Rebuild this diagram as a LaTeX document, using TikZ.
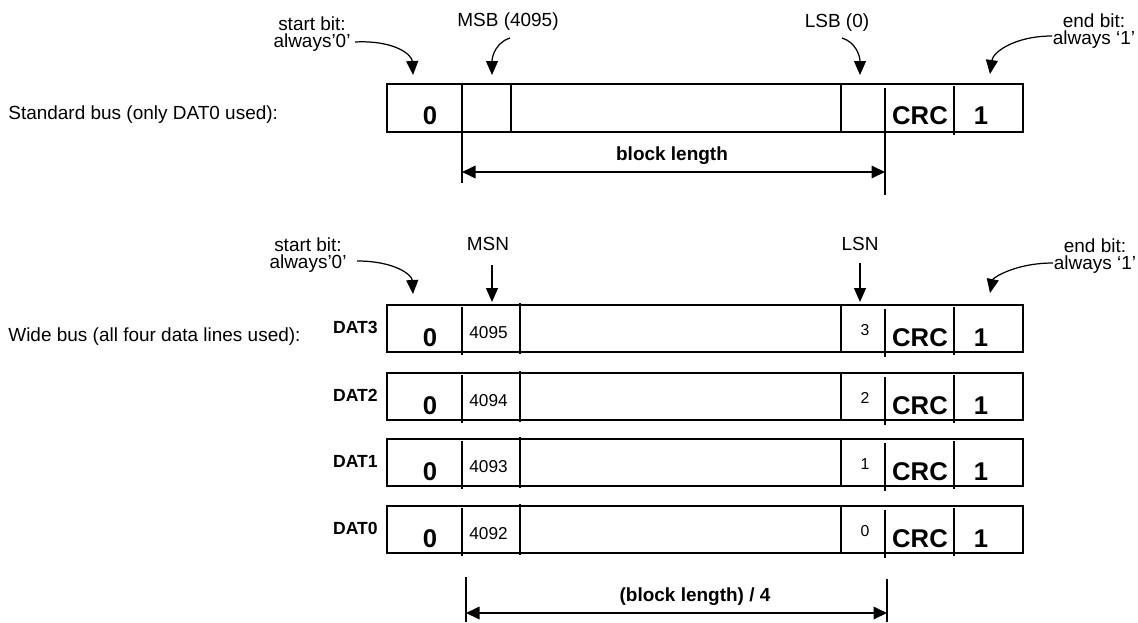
\documentclass[tikz,border=0pt]{standalone}
\usepackage{fontspec}
\setmainfont{Liberation Sans}
\usetikzlibrary{arrows.meta}
\begin{document}
\begin{tikzpicture}[x=0.02cm,y=-0.02cm]
\tikzset{text style/.style={inner sep=0pt, font=\fontsize{10.8}{9.4}\selectfont, align=center},
         bit style/.style={inner sep=0pt, font=\fontsize{14.6}{16}\selectfont\bfseries},
         dat style/.style={inner sep=0pt, font=\fontsize{10}{12}\selectfont\bfseries},
         len style/.style={inner sep=0pt, font=\fontsize{10.8}{12}\selectfont\bfseries},
         num style/.style={inner sep=0pt, font=\fontsize{9.8}{11}\selectfont},
         nib style/.style={inner sep=0pt, font=\fontsize{9}{10}\selectfont},
         frame style/.style={line width=1.1pt},
         pointer/.style={line width=0.7pt, -{Triangle[length=0.28cm,width=0.24cm]}},
         span/.style={line width=1pt, {Triangle[length=0.27cm,width=0.25cm]}-{Triangle[length=0.27cm,width=0.25cm]}}}
\useasboundingbox (0,0) rectangle (1138,622);

% standard bus
\node[text style, anchor=base west] at (8, 119)   (std)   {Standard bus (only DAT0 used):};
\node[text style] at (312, 34)    (std start)   {start bit:\\always'0'};
\node[text style, anchor=base] at (508, 27)     (msb)   {MSB (4095)};
\node[text style, anchor=base] at (837, 28)     (lsb)   {LSB (0)};
\node[text style] at (1094, 31)   (std end)     {end bit:\\always `1'};

\draw[frame style] (387, 84) rectangle (1023, 132);
\draw[frame style] (462, 84) -- (462, 132) (511, 84) -- (511, 132) (841, 84) -- (841, 132)
                   (885, 88) -- (885, 132) (954, 86) -- (954, 135);
\node[bit style, anchor=base] at (430, 124)  (s0)  {0};
\node[bit style, anchor=base] at (920, 124)  (scrc) {CRC};
\node[bit style, anchor=base] at (981, 124)  (s1)  {1};

\coordinate (std start from) at (355, 42);
\coordinate (std start to)   at (413, 75);
\coordinate (msb from) at (510, 38);
\coordinate (msb to)   at (492, 75);
\coordinate (lsb from) at (842, 38);
\coordinate (lsb to)   at (860, 75);
\coordinate (std end from) at (1052, 36);
\coordinate (std end to)   at (990, 74);

\draw[pointer] (std start from) .. controls (395, 40) and (412, 55) .. (std start to);
\draw[pointer] (msb from) .. controls (497, 42) and (492, 55) .. (msb to);
\draw[pointer] (lsb from) .. controls (855, 42) and (860, 55) .. (lsb to);
\draw[pointer] (std end from) .. controls (1015, 36) and (993, 52) .. (std end to);

\coordinate (bl left top)  at (462, 132);
\coordinate (bl left)      at (462, 183);
\coordinate (bl right top) at (885, 132);
\coordinate (bl right)     at (885, 195);
\draw[line width=0.8pt] (bl left top) -- (bl left) (bl right top) -- (bl right);
\coordinate (bl a) at (462, 172);
\coordinate (bl b) at (885, 172);
\draw[span] (bl a) -- (bl b);
\node[len style, anchor=base] at (672, 160) (bl) {block length};

% wide bus
\node[text style, anchor=base west] at (8, 341)   (wide)   {Wide bus (all four data lines used):};
\node[text style] at (308, 255)   (wide start)  {start bit:\\always'0'};
\node[text style, anchor=base] at (488, 250)    (msn)   {MSN};
\node[text style, anchor=base] at (860, 250)    (lsn)   {LSN};
\node[text style] at (1095, 256)  (wide end)    {end bit:\\always `1'};

\coordinate (wide start from) at (357, 261);
\coordinate (wide start to)   at (413, 294);
\coordinate (msn from) at (492, 265);
\coordinate (msn to)   at (492, 302);
\coordinate (lsn from) at (860, 263);
\coordinate (lsn to)   at (860, 302);
\coordinate (wide end from) at (1053, 263);
\coordinate (wide end to)   at (990, 293);

\draw[pointer] (wide start from) .. controls (395, 261) and (412, 275) .. (wide start to);
\draw[pointer] (msn from) -- (msn to);
\draw[pointer] (lsn from) -- (lsn to);
\draw[pointer] (wide end from) .. controls (1015, 263) and (993, 278) .. (wide end to);

% DAT3
\draw[frame style] (387, 305) rectangle (1023, 352);
\draw[frame style] (462, 307) -- (462, 355) (520, 303) -- (520, 354) (841, 305) -- (841, 352)
                   (885, 309) -- (885, 357) (954, 307) -- (954, 355);
\node[dat style, anchor=base east] at (378, 333)  (d3)   {DAT3};
\node[bit style, anchor=base] at (430, 346)       (d3 0) {0};
\node[num style, anchor=base west] at (469, 338)  (d3 msn) {4095};
\node[nib style, anchor=base] at (865, 335)       (d3 lsn) {3};
\node[bit style, anchor=base] at (920, 346)       (d3 crc) {CRC};
\node[bit style, anchor=base] at (981, 346)       (d3 1) {1};

% DAT2
\draw[frame style] (387, 373) rectangle (1023, 420);
\draw[frame style] (462, 375) -- (462, 423) (520, 371) -- (520, 422) (841, 373) -- (841, 420)
                   (885, 377) -- (885, 425) (954, 375) -- (954, 423);
\node[dat style, anchor=base east] at (378, 401)  (d2)   {DAT2};
\node[bit style, anchor=base] at (430, 414)       (d2 0) {0};
\node[num style, anchor=base west] at (469, 406)  (d2 msn) {4094};
\node[nib style, anchor=base] at (865, 403)       (d2 lsn) {2};
\node[bit style, anchor=base] at (920, 414)       (d2 crc) {CRC};
\node[bit style, anchor=base] at (981, 414)       (d2 1) {1};

% DAT1
\draw[frame style] (387, 439) rectangle (1023, 486);
\draw[frame style] (462, 441) -- (462, 489) (520, 437) -- (520, 488) (841, 439) -- (841, 486)
                   (885, 443) -- (885, 491) (954, 441) -- (954, 489);
\node[dat style, anchor=base east] at (378, 467)  (d1)   {DAT1};
\node[bit style, anchor=base] at (430, 480)       (d1 0) {0};
\node[num style, anchor=base west] at (469, 472)  (d1 msn) {4093};
\node[nib style, anchor=base] at (865, 469)       (d1 lsn) {1};
\node[bit style, anchor=base] at (920, 480)       (d1 crc) {CRC};
\node[bit style, anchor=base] at (981, 480)       (d1 1) {1};

% DAT0
\draw[frame style] (387, 506) rectangle (1023, 553);
\draw[frame style] (462, 508) -- (462, 556) (520, 504) -- (520, 555) (841, 506) -- (841, 553)
                   (885, 510) -- (885, 558) (954, 508) -- (954, 556);
\node[dat style, anchor=base east] at (378, 534)  (d0)   {DAT0};
\node[bit style, anchor=base] at (430, 547)       (d0 0) {0};
\node[num style, anchor=base west] at (469, 539)  (d0 msn) {4092};
\node[nib style, anchor=base] at (865, 536)       (d0 lsn) {0};
\node[bit style, anchor=base] at (920, 547)       (d0 crc) {CRC};
\node[bit style, anchor=base] at (981, 547)       (d0 1) {1};

\coordinate (wbl left top)  at (466, 577);
\coordinate (wbl left)      at (466, 622);
\coordinate (wbl right top) at (887, 579);
\coordinate (wbl right)     at (887, 622);
\draw[line width=0.8pt] (wbl left top) -- (wbl left) (wbl right top) -- (wbl right);
\coordinate (wbl a) at (466, 613);
\coordinate (wbl b) at (887, 613);
\draw[span] (wbl a) -- (wbl b);
\node[len style, anchor=base] at (695, 601) (wbl) {(block length) / 4};
\end{tikzpicture}
\end{document}
